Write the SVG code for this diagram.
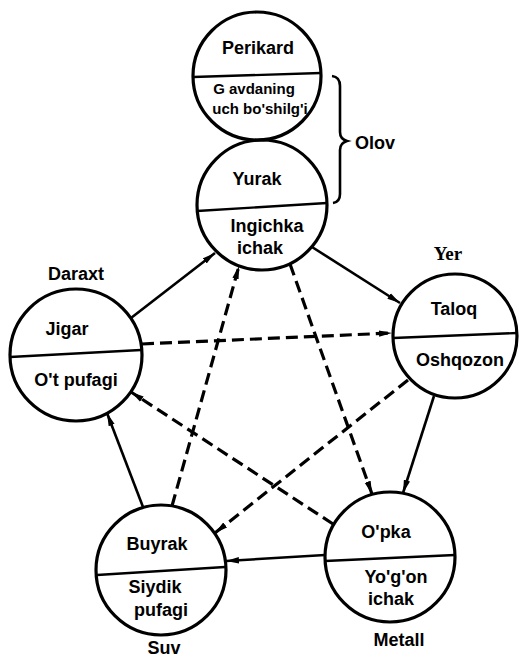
<svg xmlns="http://www.w3.org/2000/svg" width="519" height="662" viewBox="0 0 519 662">
<style>
.c{fill:none;stroke:#000;stroke-width:3.2}
.d{stroke:#000;stroke-width:2.4}
.t{font-family:"Liberation Sans",Arial,sans-serif;font-weight:bold;font-size:18px;text-anchor:middle;fill:#000}
.s{font-size:15px}
.y{font-family:"Liberation Serif","Times New Roman",serif;font-size:19px}
.a{stroke:#000;stroke-width:2.6;fill:none}
.da{stroke:#000;stroke-width:3.2;fill:none;stroke-dasharray:12 6}
</style>
<defs>
<marker id="ah" markerUnits="userSpaceOnUse" markerWidth="14" markerHeight="8" refX="13" refY="4" orient="auto">
<path d="M0,0.8 L13,4 L0,7.2 z" fill="#000"/>
</marker>
</defs>
<g id="perikard">
<circle class="c" cx="257" cy="76" r="64"/>
<line class="d" x1="193" y1="77" x2="321" y2="73"/>
<text class="t" x="258" y="54">Perikard</text>
<text class="t s" x="254" y="94">G avdaning</text>
<text class="t s" x="260" y="114">uch bo'shilg'i</text>
</g>
<g id="yurak">
<circle class="c" cx="262" cy="205" r="65"/>
<line class="d" x1="197" y1="211" x2="327" y2="203"/>
<text class="t" x="257" y="185">Yurak</text>
<text class="t" x="267" y="232">Ingichka</text>
<text class="t" x="260" y="254">ichak</text>
</g>
<g id="olov">
<path class="a" d="M332,76 Q340,77 340,86 L340,132 Q340,139 347,141 Q340,143 340,150 L340,194 Q340,202 333,203"/>
<text class="t" x="355" y="149" style="text-anchor:start">Olov</text>
</g>
<g id="jigar">
<circle class="c" cx="76" cy="355" r="66"/>
<line class="d" x1="10" y1="357" x2="141" y2="350"/>
<text class="t" x="76" y="280">Daraxt</text>
<text class="t" x="67" y="335">Jigar</text>
<text class="t" x="76" y="386">O't pufagi</text>
</g>
<g id="taloq">
<circle class="c" cx="455" cy="336" r="62"/>
<line class="d" x1="393" y1="338" x2="517" y2="333"/>
<text class="t y" x="448" y="260">Yer</text>
<text class="t" x="454" y="315">Taloq</text>
<text class="t" x="460" y="366">Oshqozon</text>
</g>
<g id="buyrak">
<circle class="c" cx="161" cy="570" r="65"/>
<line class="d" x1="97" y1="575" x2="225" y2="567"/>
<text class="t" x="157" y="550">Buyrak</text>
<text class="t" x="155" y="593">Siydik</text>
<text class="t" x="161" y="616">pufagi</text>
<text class="t" x="164" y="654">Suv</text>
</g>
<g id="opka">
<circle class="c" cx="390" cy="557" r="65"/>
<line class="d" x1="325" y1="561" x2="455" y2="555"/>
<text class="t" x="386" y="538">O'pka</text>
<text class="t" x="396" y="583">Yo'g'on</text>
<text class="t" x="391" y="605">ichak</text>
<text class="t" x="399" y="646">Metall</text>
</g>
<g id="connectors">
<line class="a" x1="131" y1="318" x2="215" y2="253" marker-end="url(#ah)"/>
<line class="a" x1="312" y1="247" x2="400" y2="303" marker-end="url(#ah)"/>
<line class="a" x1="434" y1="396" x2="403" y2="493" marker-end="url(#ah)"/>
<line class="a" x1="325" y1="555" x2="226" y2="561" marker-end="url(#ah)"/>
<line class="a" x1="143" y1="507" x2="107" y2="413" marker-end="url(#ah)"/>
<line class="da" x1="142" y1="344" x2="392" y2="333" marker-end="url(#ah)"/>
<line class="da" x1="172" y1="506" x2="239" y2="266" marker-end="url(#ah)"/>
<line class="da" x1="290" y1="264" x2="372" y2="494" marker-end="url(#ah)"/>
<line class="da" x1="408" y1="380" x2="215" y2="533" marker-end="url(#ah)"/>
<line class="da" x1="333" y1="524" x2="131" y2="392" marker-end="url(#ah)"/>
</g>
</svg>
